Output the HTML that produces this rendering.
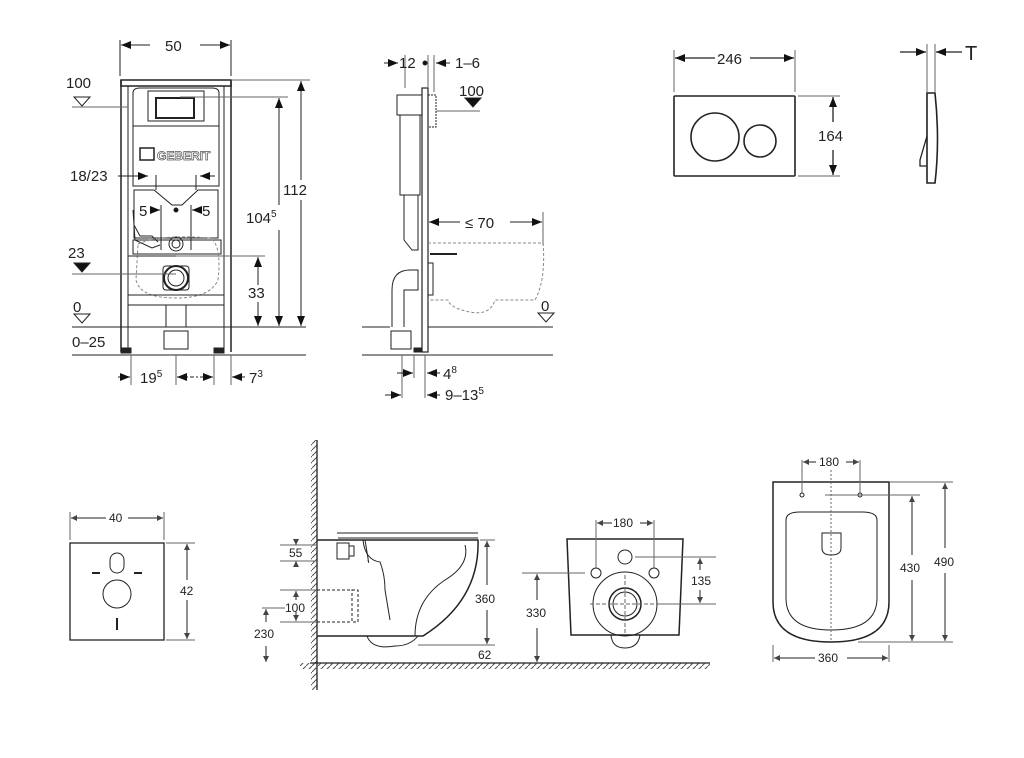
<!DOCTYPE html>
<html><head><meta charset="utf-8"><style>
html,body{margin:0;padding:0;background:#fff}
svg{display:block}
text{font-family:"Liberation Sans",sans-serif;fill:#222}
</style></head><body>
<svg width="1024" height="758" viewBox="0 0 1024 758" xmlns="http://www.w3.org/2000/svg">
<defs>
<marker id="a" markerWidth="10" markerHeight="8" refX="10" refY="4" orient="auto" markerUnits="userSpaceOnUse"><path d="M0,0L10,4L0,8z" fill="#111"/></marker>
<marker id="s" markerWidth="6" markerHeight="6" refX="6" refY="3" orient="auto" markerUnits="userSpaceOnUse"><path d="M0,0L6,3L0,6z" fill="#444"/></marker>
<pattern id="h" width="6" height="6" patternUnits="userSpaceOnUse"><path d="M0,6L6,0" stroke="#555" stroke-width="1"/></pattern>
</defs>
<g stroke="#222" fill="none" stroke-width="1">
<!-- ===== Panel 1: frame front ===== -->
<line x1="120" y1="40" x2="120" y2="76"/><line x1="231" y1="40" x2="231" y2="76"/>
<line x1="150" y1="45" x2="121" y2="45" marker-end="url(#a)"/><line x1="200" y1="45" x2="230" y2="45" marker-end="url(#a)"/>
<rect x="121" y="80" width="110" height="6" stroke-width="1.5"/>
<line x1="121" y1="80" x2="121" y2="352" stroke-width="1.5"/><line x1="128" y1="86" x2="128" y2="352"/>
<line x1="224" y1="86" x2="224" y2="352"/><line x1="231" y1="80" x2="231" y2="352" stroke-width="1.5"/>
<path d="M133,93 Q133,88 140,88 L212,88 Q219,88 219,93 L219,126 L133,126Z"/>
<rect x="148" y="91" width="56" height="30"/><rect x="156" y="98" width="38" height="20" stroke-width="2"/>
<rect x="133" y="126" width="86" height="60"/>
<rect x="140" y="148" width="14" height="12" stroke-width="1.5"/>
<text x="157" y="160" font-size="12" font-weight="bold" fill="none" stroke="#555" stroke-width=".7" style="fill:none">GEBERIT</text>
<path d="M134,190 L154,190 L172,205 L182,205 L198,190 L218,190 L218,238 L134,238Z"/>
<line x1="156" y1="175" x2="156" y2="190"/><line x1="196" y1="175" x2="196" y2="190"/>
<line x1="161" y1="205" x2="161" y2="250"/><line x1="191" y1="205" x2="191" y2="250"/>
<rect x="133" y="240" width="88" height="14"/>
<path d="M133,210 L135,240 L152,248 L160,245"/>
<path d="M134,225 L140,236 L152,236 L158,242" />
<circle cx="176" cy="244" r="7"/><circle cx="176" cy="244" r="4"/>
<circle cx="176" cy="278" r="12" stroke-width="2"/><circle cx="176" cy="278" r="8"/>
<rect x="163" y="266" width="26" height="24" rx="3"/>
<path d="M138,244 Q160,234 210,238 Q222,245 218,280 Q210,298 176,298 Q140,298 136,280Z" stroke-dasharray="3,2" stroke="#888"/>
<line x1="128" y1="256" x2="224" y2="256"/><line x1="128" y1="295" x2="224" y2="295"/><line x1="128" y1="305" x2="224" y2="305"/>
<rect x="166" y="305" width="20" height="22"/>
<rect x="164" y="331" width="24" height="18"/>
<rect x="121" y="348" width="10" height="5" fill="#222"/><rect x="214" y="348" width="10" height="5" fill="#222"/>
<line x1="72" y1="327" x2="306" y2="327"/><line x1="72" y1="355" x2="306" y2="355"/>
<line x1="72" y1="107" x2="128" y2="107" stroke="#666"/>
<path d="M74,97 L90,97 L82,106Z"/>
<line x1="72" y1="274" x2="176" y2="274" stroke="#666"/>
<path d="M74,263 L90,263 L82,272Z" fill="#111"/>
<path d="M74,314 L90,314 L82,323Z"/>
<!-- right dims -->
<line x1="231" y1="80" x2="310" y2="80" stroke="#666"/><line x1="180" y1="97" x2="288" y2="97" stroke="#666"/>
<line x1="176" y1="256" x2="265" y2="256" stroke="#666"/>
<line x1="301" y1="180" x2="301" y2="81" marker-end="url(#a)"/><line x1="301" y1="200" x2="301" y2="326" marker-end="url(#a)"/>
<line x1="279" y1="205" x2="279" y2="98" marker-end="url(#a)"/><line x1="279" y1="230" x2="279" y2="326" marker-end="url(#a)"/>
<line x1="258" y1="285" x2="258" y2="257" marker-end="url(#a)"/><line x1="258" y1="302" x2="258" y2="326" marker-end="url(#a)"/>
<line x1="118" y1="176" x2="148" y2="176" marker-end="url(#a)"/><line x1="215" y1="176" x2="200" y2="176" marker-end="url(#a)"/>
<line x1="153" y1="210" x2="160" y2="210" marker-end="url(#a)"/><line x1="198" y1="210" x2="192" y2="210" marker-end="url(#a)"/>
<circle cx="176" cy="210" r="2" fill="#111"/>
<line x1="131" y1="355" x2="131" y2="385" stroke="#666"/><line x1="176" y1="355" x2="176" y2="385" stroke="#666"/>
<line x1="214" y1="355" x2="214" y2="385" stroke="#666"/><line x1="231" y1="355" x2="231" y2="385" stroke="#666"/>
<line x1="118" y1="377" x2="130" y2="377" marker-end="url(#a)"/>
<line x1="178" y1="377" x2="198" y2="377" stroke-dasharray="4,2"/>
<line x1="185" y1="377" x2="177" y2="377" marker-end="url(#a)"/><line x1="200" y1="377" x2="213" y2="377" marker-end="url(#a)"/>
<line x1="245" y1="377" x2="232" y2="377" marker-end="url(#a)"/>

<!-- ===== Panel 2: side ===== -->
<rect x="422" y="88" width="6" height="264" stroke-width="1.2"/>
<rect x="397" y="95" width="25" height="20"/><rect x="400" y="115" width="20" height="80"/>
<path d="M404,195 L404,240 L412,250 L418,250 L418,195"/>
<rect x="428" y="95" width="8" height="32" stroke-dasharray="2,1"/>
<rect x="428" y="263" width="5" height="32"/>
<path d="M392,327 L392,290 Q392,270 410,270 L418,270 L418,290 L404,290 L404,327"/>
<rect x="391" y="331" width="20" height="18"/>
<rect x="414" y="348" width="8" height="4" fill="#222"/>
<path d="M428,243 L543,243 Q546,280 535,300 L495,300 Q490,316 470,312 Q450,308 448,300 L428,300" stroke-dasharray="3,2" stroke="#888"/>
<line x1="430" y1="254" x2="457" y2="254" stroke-width="2"/>
<line x1="362" y1="327" x2="390" y2="327"/><line x1="428" y1="327" x2="553" y2="327"/>
<line x1="362" y1="355" x2="553" y2="355"/>
<line x1="405" y1="55" x2="405" y2="88" stroke="#666"/><line x1="428" y1="55" x2="428" y2="88" stroke="#666"/><line x1="434" y1="55" x2="434" y2="92" stroke="#666"/>
<line x1="384" y1="63" x2="398" y2="63" marker-end="url(#a)"/><line x1="450" y1="63" x2="436" y2="63" marker-end="url(#a)"/>
<circle cx="425" cy="63" r="2" fill="#111"/>
<line x1="436" y1="111" x2="480" y2="111" stroke="#666"/>
<path d="M465,98 L481,98 L473,107Z" fill="#111"/>
<line x1="543" y1="212" x2="543" y2="245" stroke="#666"/>
<line x1="460" y1="222" x2="429" y2="222" marker-end="url(#a)"/><line x1="510" y1="222" x2="542" y2="222" marker-end="url(#a)"/>
<path d="M538,313 L554,313 L546,322Z"/>
<line x1="402" y1="355" x2="402" y2="398" stroke="#666"/><line x1="414" y1="355" x2="414" y2="378" stroke="#666"/><line x1="425" y1="355" x2="425" y2="398" stroke="#666"/>
<line x1="397" y1="373" x2="413" y2="373" marker-end="url(#a)"/><line x1="440" y1="373" x2="427" y2="373" marker-end="url(#a)"/>
<line x1="385" y1="395" x2="401" y2="395" marker-end="url(#a)"/><line x1="440" y1="395" x2="427" y2="395" marker-end="url(#a)"/>

<!-- ===== Panel 3: plate ===== -->
<line x1="674" y1="50" x2="674" y2="92" stroke="#666"/><line x1="795" y1="50" x2="795" y2="92" stroke="#666"/>
<line x1="715" y1="58" x2="675" y2="58" marker-end="url(#a)" stroke-width="1.3"/><line x1="750" y1="58" x2="794" y2="58" marker-end="url(#a)" stroke-width="1.3"/>
<rect x="674" y="96" width="121" height="80" rx="1" stroke-width="1.6"/>
<circle cx="715" cy="137" r="24" stroke-width="1.6"/><circle cx="760" cy="141" r="16" stroke-width="1.6"/>
<line x1="798" y1="96" x2="840" y2="96" stroke="#666"/><line x1="798" y1="176" x2="840" y2="176" stroke="#666"/>
<line x1="833" y1="122" x2="833" y2="97" marker-end="url(#a)" stroke-width="1.3"/><line x1="833" y1="150" x2="833" y2="175" marker-end="url(#a)" stroke-width="1.3"/>
<line x1="927" y1="44" x2="927" y2="92" stroke="#666"/><line x1="935" y1="44" x2="935" y2="92" stroke="#666"/>
<line x1="900" y1="52" x2="926" y2="52" marker-end="url(#a)" stroke-width="1.3"/><line x1="962" y1="52" x2="936" y2="52" marker-end="url(#a)" stroke-width="1.3"/>
<path d="M927,93 L935,93 Q940,140 935,183 L927,183Z" stroke-width="1.6"/>
<path d="M927,136 L920,160 L920,166 L927,166" stroke-width="1.3"/>

<!-- ===== Bottom left panel ===== -->
<line x1="70" y1="512" x2="70" y2="540" stroke="#666"/><line x1="164" y1="512" x2="164" y2="540" stroke="#666"/>
<line x1="106" y1="518" x2="71" y2="518" marker-end="url(#s)"/><line x1="128" y1="518" x2="163" y2="518" marker-end="url(#s)"/>
<rect x="70" y="543" width="94" height="97" stroke-width="1.3"/>
<rect x="110" y="553" width="14" height="20" rx="7"/>
<circle cx="117" cy="594" r="14"/>
<line x1="92" y1="573" x2="100" y2="573" stroke-width="2"/><line x1="134" y1="573" x2="142" y2="573" stroke-width="2"/>
<line x1="117" y1="618" x2="117" y2="630" stroke-width="2"/>
<line x1="166" y1="543" x2="195" y2="543" stroke="#666"/><line x1="166" y1="640" x2="195" y2="640" stroke="#666"/>
<line x1="187" y1="580" x2="187" y2="544" marker-end="url(#s)"/><line x1="187" y1="600" x2="187" y2="639" marker-end="url(#s)"/>

<!-- ===== Side toilet ===== -->
<rect x="311" y="440" width="6" height="250" fill="url(#h)" stroke="none"/>
<line x1="317" y1="440" x2="317" y2="690" stroke-width="1.3"/>
<rect x="300" y="663" width="410" height="6" fill="url(#h)" stroke="none"/>
<line x1="310" y1="663" x2="710" y2="663" stroke-width="1.3"/>
<line x1="337" y1="533" x2="478" y2="533"/><line x1="338" y1="538" x2="478" y2="538"/>
<path d="M317,540 L478,540 Q480,600 423,636 L317,636" stroke-width="1.5"/>
<path d="M367,636 Q372,650 395,646 Q410,646 418,636" />
<path d="M365,540 Q370,570 368,560" />
<path d="M363,540 Q365,560 380,562 Q385,575 385,590 L390,620"/>
<path d="M465,545 Q470,565 445,580 Q415,600 415,636"/>
<rect x="337" y="543" width="12" height="16"/><rect x="349" y="546" width="5" height="10"/>
<rect x="352" y="590" width="6" height="32" stroke-dasharray="3,2"/>
<line x1="317" y1="590" x2="352" y2="590" stroke-dasharray="3,2"/><line x1="317" y1="622" x2="352" y2="622" stroke-dasharray="3,2"/>
<line x1="280" y1="545" x2="317" y2="545" stroke="#666"/><line x1="280" y1="561" x2="317" y2="561" stroke="#666"/>
<line x1="296" y1="540" x2="296" y2="545" marker-end="url(#s)"/><line x1="296" y1="566" x2="296" y2="561" marker-end="url(#s)"/>
<line x1="280" y1="590" x2="317" y2="590" stroke="#666"/><line x1="280" y1="622" x2="317" y2="622" stroke="#666"/>
<line x1="296" y1="600" x2="296" y2="591" marker-end="url(#s)"/><line x1="296" y1="612" x2="296" y2="621" marker-end="url(#s)"/>
<line x1="262" y1="608" x2="285" y2="608" stroke="#666"/>
<line x1="266" y1="622" x2="266" y2="609" marker-end="url(#s)"/><line x1="266" y1="646" x2="266" y2="662" marker-end="url(#s)"/>
<line x1="480" y1="540" x2="495" y2="540" stroke="#666"/><line x1="418" y1="645" x2="495" y2="645" stroke="#666"/>
<line x1="487" y1="585" x2="487" y2="541" marker-end="url(#s)"/><line x1="487" y1="610" x2="487" y2="644" marker-end="url(#s)"/>
<!-- front toilet -->
<path d="M567,539 L683,539 L679,635 L571,635Z" stroke-width="1.5"/>
<path d="M611,635 Q612,648 625,648 Q638,648 640,635"/>
<circle cx="625" cy="557" r="7"/><circle cx="596" cy="573" r="5"/><circle cx="654" cy="573" r="5"/>
<circle cx="625" cy="604" r="32"/><circle cx="625" cy="604" r="16" stroke-width="1.5"/><circle cx="625" cy="604" r="12"/>
<line x1="590" y1="604" x2="660" y2="604" stroke-dasharray="4,2" stroke="#666"/><line x1="625" y1="575" x2="625" y2="635" stroke-dasharray="4,2" stroke="#666"/>
<line x1="596" y1="520" x2="596" y2="568" stroke="#666"/><line x1="654" y1="520" x2="654" y2="568" stroke="#666"/>
<line x1="612" y1="523" x2="597" y2="523" marker-end="url(#s)"/><line x1="640" y1="523" x2="653" y2="523" marker-end="url(#s)"/>
<line x1="635" y1="557" x2="716" y2="557" stroke="#666"/><line x1="660" y1="604" x2="716" y2="604" stroke="#666"/>
<line x1="700" y1="570" x2="700" y2="558" marker-end="url(#s)"/><line x1="700" y1="590" x2="700" y2="603" marker-end="url(#s)"/>
<line x1="522" y1="573" x2="585" y2="573" stroke="#666"/>
<line x1="537" y1="600" x2="537" y2="574" marker-end="url(#s)"/><line x1="537" y1="628" x2="537" y2="662" marker-end="url(#s)"/>
<!-- top view -->
<path d="M773,482 L889,482 L889,602 Q889,642 831,642 Q773,642 773,602Z" stroke-width="1.5"/>
<path d="M786,520 Q786,512 800,512 L862,512 Q877,512 877,520 L877,598 Q877,630 831,630 Q786,630 786,598Z"/>
<path d="M822,533 L841,533 L841,548 Q841,555 831,555 Q822,555 822,548Z"/>
<line x1="831" y1="470" x2="831" y2="642" stroke-dasharray="2,2" stroke="#666"/>
<circle cx="802" cy="495" r="2"/><circle cx="860" cy="495" r="2"/>
<line x1="802" y1="460" x2="802" y2="493" stroke="#666"/><line x1="860" y1="460" x2="860" y2="493" stroke="#666"/>
<line x1="816" y1="462" x2="803" y2="462" marker-end="url(#s)"/><line x1="846" y1="462" x2="859" y2="462" marker-end="url(#s)"/>
<line x1="825" y1="495" x2="920" y2="495" stroke="#666"/><line x1="889" y1="482" x2="953" y2="482" stroke="#666"/>
<line x1="858" y1="642" x2="953" y2="642" stroke="#666"/>
<line x1="912" y1="555" x2="912" y2="496" marker-end="url(#s)"/><line x1="912" y1="580" x2="912" y2="641" marker-end="url(#s)"/>
<line x1="945" y1="548" x2="945" y2="483" marker-end="url(#s)"/><line x1="945" y1="573" x2="945" y2="641" marker-end="url(#s)"/>
<line x1="773" y1="645" x2="773" y2="662" stroke="#666"/><line x1="889" y1="645" x2="889" y2="662" stroke="#666"/>
<line x1="815" y1="658" x2="774" y2="658" marker-end="url(#s)"/><line x1="847" y1="658" x2="888" y2="658" marker-end="url(#s)"/>
</g>
<!-- text -->
<g font-size="15">
<text x="165" y="51">50</text>
<text x="66" y="88">100</text>
<text x="70" y="181">18/23</text>
<text x="139" y="216">5</text><text x="202" y="216">5</text>
<text x="68" y="258">23</text>
<text x="73" y="312">0</text>
<text x="72" y="347">0–25</text>
<text x="283" y="195">112</text>
<text x="246" y="223">104<tspan font-size="10" dy="-6">5</tspan></text>
<text x="248" y="298">33</text>
<text x="140" y="383">19<tspan font-size="10" dy="-6">5</tspan></text>
<text x="249" y="383">7<tspan font-size="10" dy="-6">3</tspan></text>
<text x="399" y="68">12</text>
<text x="455" y="68">1–6</text>
<text x="459" y="96">100</text>
<text x="465" y="228">≤ 70</text>
<text x="541" y="311">0</text>
<text x="443" y="379">4<tspan font-size="10" dy="-6">8</tspan></text>
<text x="445" y="400">9–13<tspan font-size="10" dy="-6">5</tspan></text>
<text x="717" y="64">246</text>
<text x="818" y="141">164</text>
<text x="965" y="60" font-size="20">T</text>
</g>
<g font-size="12" fill="#333">
<text x="109" y="522">40</text>
<text x="180" y="595">42</text>
<text x="289" y="557">55</text>
<text x="285" y="612">100</text>
<text x="254" y="638">230</text>
<text x="475" y="603">360</text>
<text x="478" y="659">62</text>
<text x="613" y="527">180</text>
<text x="691" y="585">135</text>
<text x="526" y="617">330</text>
<text x="819" y="466">180</text>
<text x="900" y="572">430</text>
<text x="934" y="566">490</text>
<text x="818" y="662">360</text>
</g>
</svg>
</body></html>
